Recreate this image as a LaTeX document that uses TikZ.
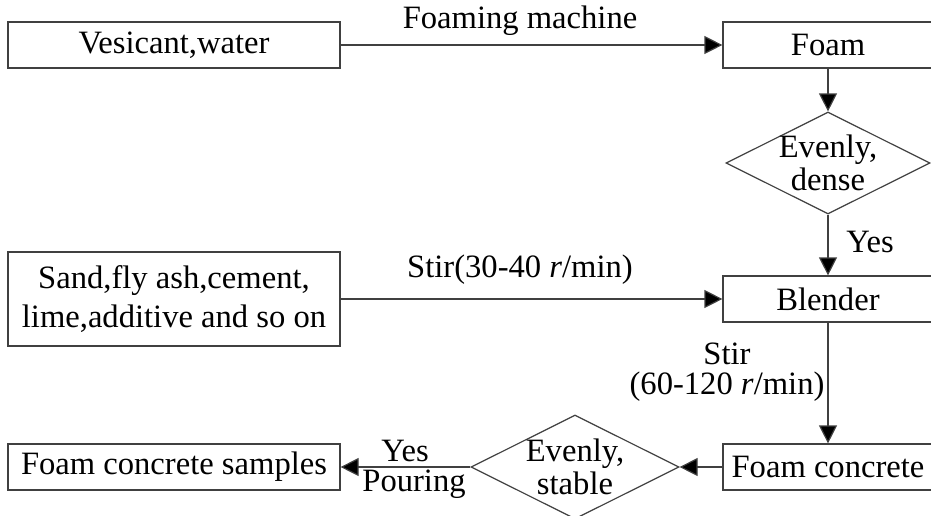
\documentclass[tikz,border=0pt]{standalone}
\usepackage{fontspec}
\setmainfont{Liberation Serif}
\usetikzlibrary{shapes.geometric, arrows.meta, positioning}

\begin{document}
\begin{tikzpicture}[x=0.5pt, y=-0.5pt,
    every node/.style={font=\fontsize{16.3}{16.5}\selectfont},
    process/.style={rectangle, draw=black!75, line width=0.6pt, minimum width=166pt, minimum height=23pt, align=center, inner sep=1pt},
    sideprocess/.style={process, minimum width=105pt},
    decision/.style={diamond, draw=black!75, line width=0.6pt, minimum width=102pt, minimum height=51pt, inner sep=0pt},
    label/.style={align=center, inner sep=1pt},
    arrow/.style={-{Triangle[length=9pt, width=9pt, fill=black]}, draw=black!75, line width=0.6pt}
]
\useasboundingbox (0,0) rectangle (931,515);

% Boxes
\node[process] (vesicant) at (174,45) {Vesicant,water};
\node[sideprocess] (foam) at (828,45) {Foam};
\node[decision] (dense) at (828,163) {};
\node[label] (densetext) at (dense.center) {Evenly,\\dense};
\node[process, minimum height=47pt, font=\fontsize{16.3}{19.5}\selectfont] (sand) at (174,299) {Sand,fly ash,cement,\\lime,additive and so on};
\node[sideprocess] (blender) at (828,299) {Blender};
\node[sideprocess] (concrete) at (828,467) {Foam concrete};
\node[decision, minimum width=104pt, minimum height=52pt] (stable) at (575,467) {};
\node[label] (stabletext) at (stable.center) {Evenly,\\stable};
\node[process] (samples) at (174,467) {Foam concrete samples};

% Arrows
\draw[arrow] (vesicant) -- (foam);
\draw[arrow] (foam) -- (dense);
\draw[arrow] (dense) -- (blender);
\draw[arrow] (sand) -- (blender);
\draw[arrow] (blender) -- (concrete);
\draw[arrow] (concrete) -- (stable);
\draw[arrow] (stable) -- (samples);

% Labels
\node[label] (machine) at (520,21) {Foaming machine};
\node[label] (yesdense) at (870,242) {Yes};
\node[label] (stirslow) at (520,270) {Stir(30-40 \textit{r}/min)};
\node[label, font=\fontsize{16.3}{15.2}\selectfont] (stirfast) at (727,372) {Stir\\(60-120 \textit{r}/min)};
\node[label] (yesstable) at (405,451) {Yes};
\node[label] (pouring) at (414,484) {Pouring};

\end{tikzpicture}
\end{document}
